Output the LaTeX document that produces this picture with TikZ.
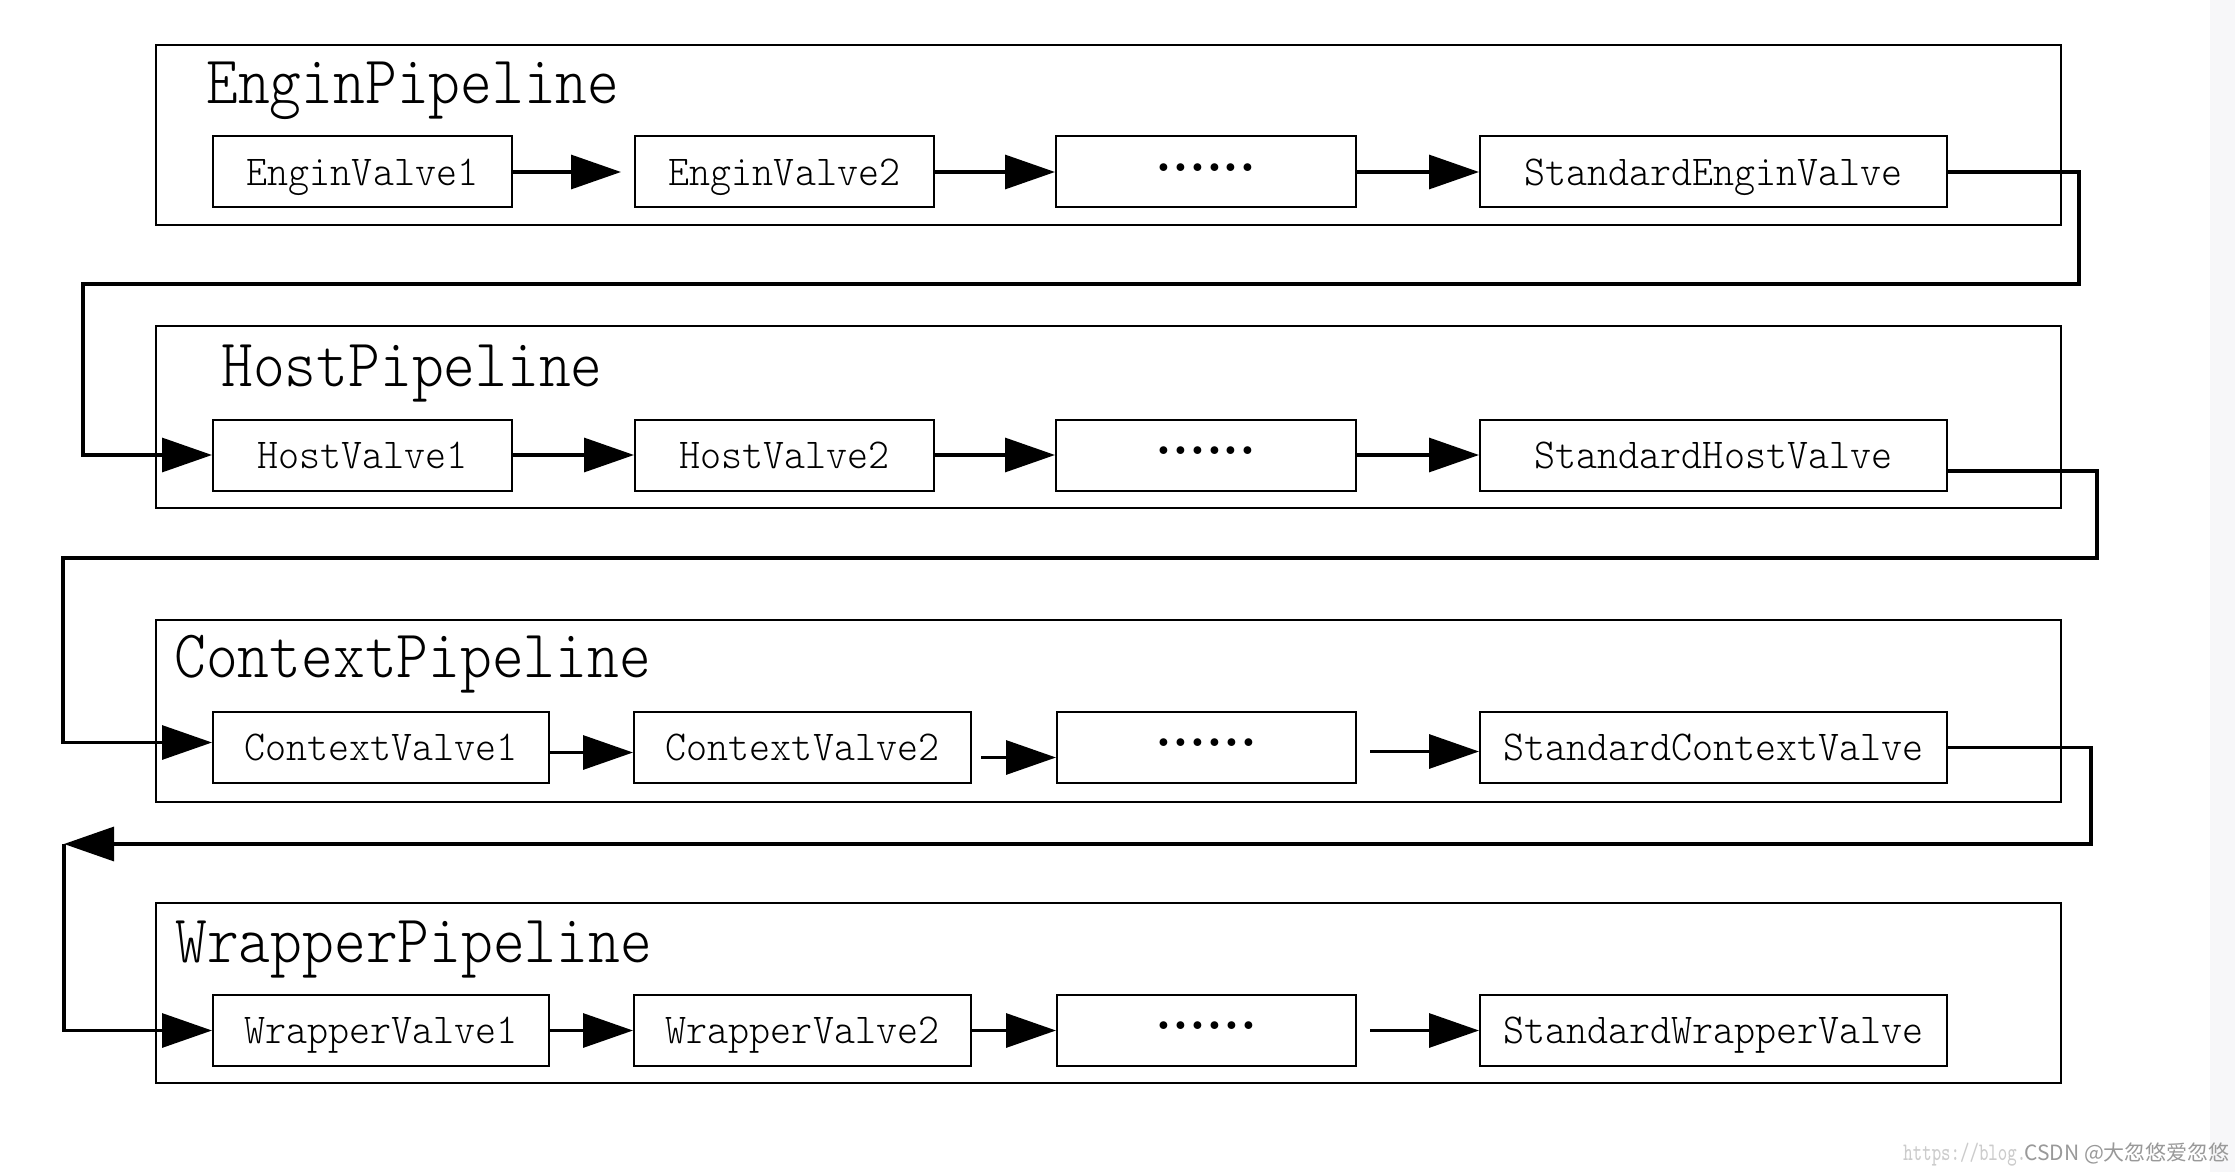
\documentclass[tikz,border=0pt]{standalone}
\usepackage{fontspec}
\usepackage{graphicx}
\usetikzlibrary{arrows.meta}
\newfontfamily\cjkfont{Noto Sans CJK SC}
\definecolor{strip}{RGB}{247,247,249}
\newcommand{\pipelabel}[1]{\scalebox{0.89}[1]{#1}}
\newcommand{\valvelabel}[1]{\scalebox{0.94}[1]{#1}}
\tikzset{
  pipebox/.style={draw, line width=1pt, inner sep=0pt, minimum width=952.5pt},
  pipetitle/.style={anchor=base west, inner sep=0pt, font=\ttfamily\fontseries{l}\fontsize{34}{40}\selectfont},
  valvebox/.style={draw, line width=1pt, inner sep=0pt, minimum height=35.5pt,
    text height=13pt, text depth=0pt, font=\ttfamily\fontseries{l}\fontsize{21.3}{25}\selectfont},
  dotsbox/.style={draw, line width=1pt, inner sep=0pt, minimum height=35.5pt,
    text height=4pt, text depth=5pt, font=\rmfamily\bfseries\fontsize{27}{27}\selectfont},
  flow/.style={line width=1.6pt, -{Triangle[length=25pt,width=17pt]}},
}
\begin{document}
\begin{tikzpicture}[x=0.5pt,y=-0.5pt]
\useasboundingbox (0,0) rectangle (2235,1172);
\fill[white] (0,0) rectangle (2235,1172);
\fill[strip] (2210,0) rectangle (2235,1172);

% pipeline boxes
\node[pipebox, minimum height=90pt] (pe) at (1108.5,135) {};
\node[pipebox, minimum height=91pt] (ph) at (1108.5,417) {};
\node[pipebox, minimum height=91pt] (pc) at (1108.5,711) {};
\node[pipebox, minimum height=90pt] (pw) at (1108.5,993) {};

% titles
\node[pipetitle] (te) at (206,104) {\pipelabel{EnginPipeline}};
\node[pipetitle] (th) at (221,386) {\pipelabel{HostPipeline}};
\node[pipetitle] (tc) at (174,677) {\pipelabel{ContextPipeline}};
\node[pipetitle] (tw) at (175,962) {\pipelabel{WrapperPipeline}};

% row 1
\node[valvebox, minimum width=149.5pt] (e1) at (362.5,172) {\valvelabel{EnginValve1}};
\node[valvebox, minimum width=149.5pt] (e2) at (784.5,172) {\valvelabel{EnginValve2}};
\node[dotsbox, minimum width=150pt] (e3) at (1206,172) {......};
\node[valvebox, minimum width=233.5pt] (e4) at (1713.5,172) {\valvelabel{StandardEnginValve}};

% row 2
\node[valvebox, minimum width=149.5pt] (h1) at (362.5,455) {\valvelabel{HostValve1}};
\node[valvebox, minimum width=149.5pt] (h2) at (784.5,455) {\valvelabel{HostValve2}};
\node[dotsbox, minimum width=150pt] (h3) at (1206,455) {......};
\node[valvebox, minimum width=233.5pt] (h4) at (1713.5,455) {\valvelabel{StandardHostValve}};

% row 3
\node[valvebox, minimum width=168pt] (c1) at (381,747.5) {\valvelabel{ContextValve1}};
\node[valvebox, minimum width=168.5pt] (c2) at (802.5,747.5) {\valvelabel{ContextValve2}};
\node[dotsbox, minimum width=149.5pt] (c3) at (1206.5,747.5) {......};
\node[valvebox, minimum width=233.5pt] (c4) at (1713.5,747.5) {\valvelabel{StandardContextValve}};

% row 4
\node[valvebox, minimum width=168pt] (w1) at (381,1030.5) {\valvelabel{WrapperValve1}};
\node[valvebox, minimum width=168.5pt] (w2) at (802.5,1030.5) {\valvelabel{WrapperValve2}};
\node[dotsbox, minimum width=149.5pt] (w3) at (1206.5,1030.5) {......};
\node[valvebox, minimum width=233.5pt] (w4) at (1713.5,1030.5) {\valvelabel{StandardWrapperValve}};

% arrows inside rows
\draw[flow, shorten >=6.5pt] (e1.east) -- (e2.west);
\draw[flow] (e2.east) -- (e3.west);
\draw[flow] (e3.east) -- (e4.west);

\draw[flow] (h1.east) -- (h2.west);
\draw[flow] (h2.east) -- (h3.west);
\draw[flow] (h3.east) -- (h4.west);

\draw[flow] ([yshift=-2.5pt]c1.east) -- ([yshift=-2.5pt]c2.west);
\draw[flow, shorten <=4.5pt] ([yshift=-5pt]c2.east) -- ([yshift=-5pt]c3.west);
\draw[flow, shorten <=6.5pt] ([yshift=-2pt]c3.east) -- ([yshift=-2pt]c4.west);

\draw[flow] (w1.east) -- (w2.west);
\draw[flow] (w2.east) -- (w3.west);
\draw[flow, shorten <=6.5pt] (w3.east) -- (w4.west);

% connectors between pipelines
\coordinate (r1) at (2079,284);
\coordinate (l1) at (83,284);
\draw[flow] (e4.east) -| (r1) -- (l1) |- (h1.west);

\coordinate (r2) at (2097,558);
\coordinate (l2) at (63,558);
\draw[flow] ([yshift=-8pt]h4.east) -| (r2) -- (l2) |- ([yshift=2.5pt]c1.west);

\coordinate (r3) at (2091,844);
\coordinate (l3) at (64,844);
\draw[flow] (c4.east) -| (r3) -- (l3);
\draw[flow] (l3) |- (w1.west);

% watermark
\node[anchor=base west, inner sep=0pt, text=gray!40, font=\ttfamily\fontsize{9}{10}\selectfont] (wm1) at (1903,1160) {\scalebox{1}[1.4]{https://blog.}};
\node[anchor=base west, inner sep=0pt, text=gray!80, font=\cjkfont\fontsize{10.5}{12}\selectfont] (wm2) at (2024,1160) {CSDN @大忽悠爱忽悠};
\end{tikzpicture}
\end{document}
